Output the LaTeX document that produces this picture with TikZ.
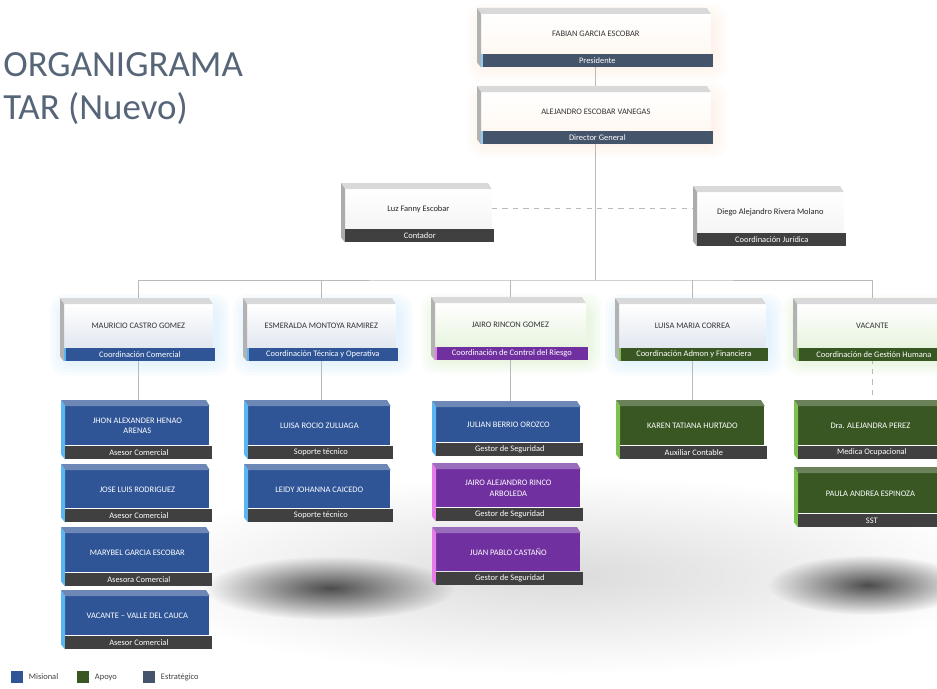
\documentclass[tikz,border=0pt]{standalone}
\usepackage{fontspec}
\setmainfont{Carlito}
\usetikzlibrary{positioning,fadings}
\pgfdeclarelayer{fondo}
\pgfdeclarelayer{background}
\pgfsetlayers{fondo,background,main}

\definecolor{misional}{HTML}{2F5597}
\definecolor{apoyo}{HTML}{385723}
\definecolor{estrategico}{HTML}{44546A}
\definecolor{riesgo}{HTML}{7030A0}
\definecolor{negro}{HTML}{404040}
\definecolor{celeste}{HTML}{5BB5F0}
\definecolor{rosa}{HTML}{E77BE8}
\definecolor{lima}{HTML}{7DC24E}
\definecolor{durazno}{HTML}{F5B98C}

\tikzfading[name=suave, inner color=transparent!0, outer color=transparent!100]

\tikzset{
  cara/.style={inner sep=1pt, align=center, font=\fontsize{4.8}{5.8}\selectfont},
  rol/.style={inner sep=0pt, text=white, font=\fontsize{4.8}{5.8}\selectfont},
  linea/.style={gray!55, line width=0.5pt},
  titulo/.style={inner sep=0pt, anchor=base west, text=estrategico!90!white, font=\fontsize{21}{24}\selectfont},
  cuadro/.style={minimum size=2.4mm, inner sep=0pt},
  leyenda/.style={inner sep=0pt, text=black!75, font=\fontsize{4.8}{5.8}\selectfont},
  jefe cara/.style={top color=white, bottom color=orange!5, text=black!80},
  jefe tapa/.style={fill=gray!30},
  jefe lado/.style={fill=gray!60},
  staff cara/.style={top color=white, bottom color=gray!8, text=black!85},
  staff tapa/.style={fill=gray!30},
  staff lado/.style={fill=gray!65},
  azul cara/.style={top color=white, bottom color=misional!14, text=black!80},
  azul tapa/.style={fill=gray!30},
  azul lado/.style={fill=gray!60},
  verde cara/.style={top color=white, bottom color=lima!18, text=black!80},
  verde tapa/.style={fill=gray!30},
  verde lado/.style={fill=gray!60},
  mis cara/.style={fill=misional, text=white},
  mis tapa/.style={fill=misional!70!white},
  mis lado/.style={fill=celeste},
  ries cara/.style={fill=riesgo, text=white},
  ries tapa/.style={fill=riesgo!70!white},
  ries lado/.style={fill=rosa},
  apo cara/.style={fill=apoyo, text=white},
  apo tapa/.style={fill=apoyo!75!white},
  apo lado/.style={fill=lima},
  estr rol/.style={fill=estrategico},
  estr acento/.style={fill=celeste!70},
  neg rol/.style={fill=negro},
  neg acento/.style={fill=negro},
  comer rol/.style={fill=misional},
  comer acento/.style={fill=celeste},
  morado rol/.style={fill=riesgo},
  morado acento/.style={fill=rosa},
  verd rol/.style={fill=apoyo},
  verd acento/.style={fill=lima}
}

\newcommand{\cajon}[9]{%
  \node[cara, #6 cara, anchor=north west, minimum width=(#4-#2-4)*0.2mm, minimum height=(#5-#3-6)*0.2mm] (#1) at (#2+4,#3+6) {#8};
  \node[rol, #7 rol, anchor=north west, minimum width=(#4-#2-1)*0.2mm, minimum height=13*0.2mm] (#1-rol) at (#1.south west) {#9};
  \fill[#6 tapa] (#2,#3) -- (#4-3,#3) -- (#1.north east) -- (#1.north west) -- cycle;
  \fill[#6 lado] (#2,#3) -- (#1.north west) -- (#1-rol.south west) -- ++(-4,-5) -- cycle;
  \fill[#7 acento] (#1-rol.north west) rectangle ++(2,13);
}

\begin{document}
\begin{tikzpicture}[x=0.2mm, y=-0.2mm]
  \useasboundingbox (0,0) rectangle (937,688);

  \begin{pgfonlayer}{fondo}
    \fill[black!14, path fading=suave] (560,575) ellipse (440 and 100);
    \fill[black!70, path fading=suave] (330,588) ellipse (125 and 32);
    \fill[black!70, path fading=suave] (868,585) ellipse (100 and 30);
  \end{pgfonlayer}

  \node[titulo] (tit1) at (3,77) {ORGANIGRAMA};
  \node[titulo] (tit2) at (3,119) {TAR (Nuevo)};

  \cajon{pres}{477}{8}{710}{53}{jefe}{estr}{FABIAN GARCIA ESCOBAR}{Presidente}
  \cajon{dir}{477}{86}{710}{130}{jefe}{estr}{ALEJANDRO ESCOBAR VANEGAS}{Director General}
  \cajon{cont}{341}{183}{491}{228}{staff}{neg}{Luz Fanny Escobar}{Contador}
  \cajon{jur}{693}{186}{843}{232}{staff}{neg}{Diego Alejandro Rivera Molano}{Coordinación Jurídica}

  \cajon{mau}{60}{298}{212}{347}{azul}{comer}{MAURICIO CASTRO GOMEZ}{Coordinación Comercial}
  \cajon{esm}{243}{298}{395}{347}{azul}{comer}{ESMERALDA MONTOYA RAMIREZ}{Coordinación Técnica y Operativa}
  \cajon{jai}{431}{297}{585}{346}{verde}{morado}{JAIRO RINCON GOMEZ}{Coordinación de Control del Riesgo}
  \cajon{lui}{615}{298}{765}{347}{azul}{verd}{LUISA MARIA CORREA}{Coordinación Admon y Financiera}
  \cajon{vac}{793}{298}{947}{347}{verde}{verd}{VACANTE}{Coordinación de Gestión Humana}

  \cajon{jhon}{61}{400}{209}{445}{mis}{neg}{JHON ALEXANDER HENAO\\ARENAS}{Asesor Comercial}
  \cajon{jose}{61}{464}{209}{508}{mis}{neg}{JOSE LUIS RODRIGUEZ}{Asesor Comercial}
  \cajon{mary}{61}{527}{209}{572}{mis}{neg}{MARYBEL GARCIA ESCOBAR}{Asesora Comercial}
  \cajon{vval}{61}{590}{209}{635}{mis}{neg}{VACANTE -- VALLE DEL CAUCA}{Asesor Comercial}
  \cajon{lroc}{244}{400}{390}{445}{mis}{neg}{LUISA ROCIO ZULUAGA}{Soporte técnico}
  \cajon{leid}{244}{464}{390}{508}{mis}{neg}{LEIDY JOHANNA CAICEDO}{Soporte técnico}
  \cajon{jul}{432}{401}{580}{442}{mis}{neg}{JULIAN BERRIO OROZCO}{Gestor de Seguridad}
  \cajon{jaa}{432}{463}{580}{507}{ries}{neg}{JAIRO ALEJANDRO RINCO\\ARBOLEDA}{Gestor de Seguridad}
  \cajon{jpc}{432}{527}{580}{571}{ries}{neg}{JUAN PABLO CASTAÑO}{Gestor de Seguridad}
  \cajon{kar}{616}{400}{764}{445}{apo}{neg}{KAREN TATIANA HURTADO}{Auxiliar Contable}
  \cajon{ale}{794}{400}{942}{445}{apo}{neg}{Dra. ALEJANDRA PEREZ}{Medica Ocupacional}
  \cajon{pau}{794}{467}{942}{513}{apo}{neg}{PAULA ANDREA ESPINOZA}{SST}

  \coordinate (hub) at (dir |- 0,280);

  \begin{pgfonlayer}{background}
    \foreach \n/\c in {pres/durazno,dir/durazno,mau/celeste,esm/celeste,jai/lima,lui/celeste,vac/lima}
      \foreach \g in {2,5,8,11,14}
        \fill[\c, opacity=.035, rounded corners=3mm] ([shift={(-\g,-\g+4)}]\n.north west) rectangle ([shift={(\g,\g)}]\n-rol.south east);
    \draw[linea] (pres) -- (dir);
    \draw[linea] (dir) -- (hub);
    \draw[linea] (mau) |- (hub) -| (vac);
    \foreach \c in {esm,jai,lui}
      \draw[linea] (\c) -- (\c |- hub);
    \draw[linea, dashed] (cont) -- (cont -| jur);
    \draw[linea] (mau) -- (mau |- jhon.north);
    \draw[linea] (esm) -- (esm |- lroc.north);
    \draw[linea] (jai) -- (jai |- jul.north);
    \draw[linea] (lui) -- (lui |- kar.north);
    \draw[linea, dashed] (vac) -- (vac |- ale.north);
  \end{pgfonlayer}

  \node[cuadro, fill=misional] (lmis) at (17,677) {};
  \node[leyenda, right=3pt of lmis] (tmis) {Misional};
  \node[cuadro, fill=apoyo] (lapo) at (83,677) {};
  \node[leyenda, right=3pt of lapo] (tapo) {Apoyo};
  \node[cuadro, fill=estrategico] (lest) at (149,677) {};
  \node[leyenda, right=3pt of lest] (test) {Estratégico};
\end{tikzpicture}
\end{document}
